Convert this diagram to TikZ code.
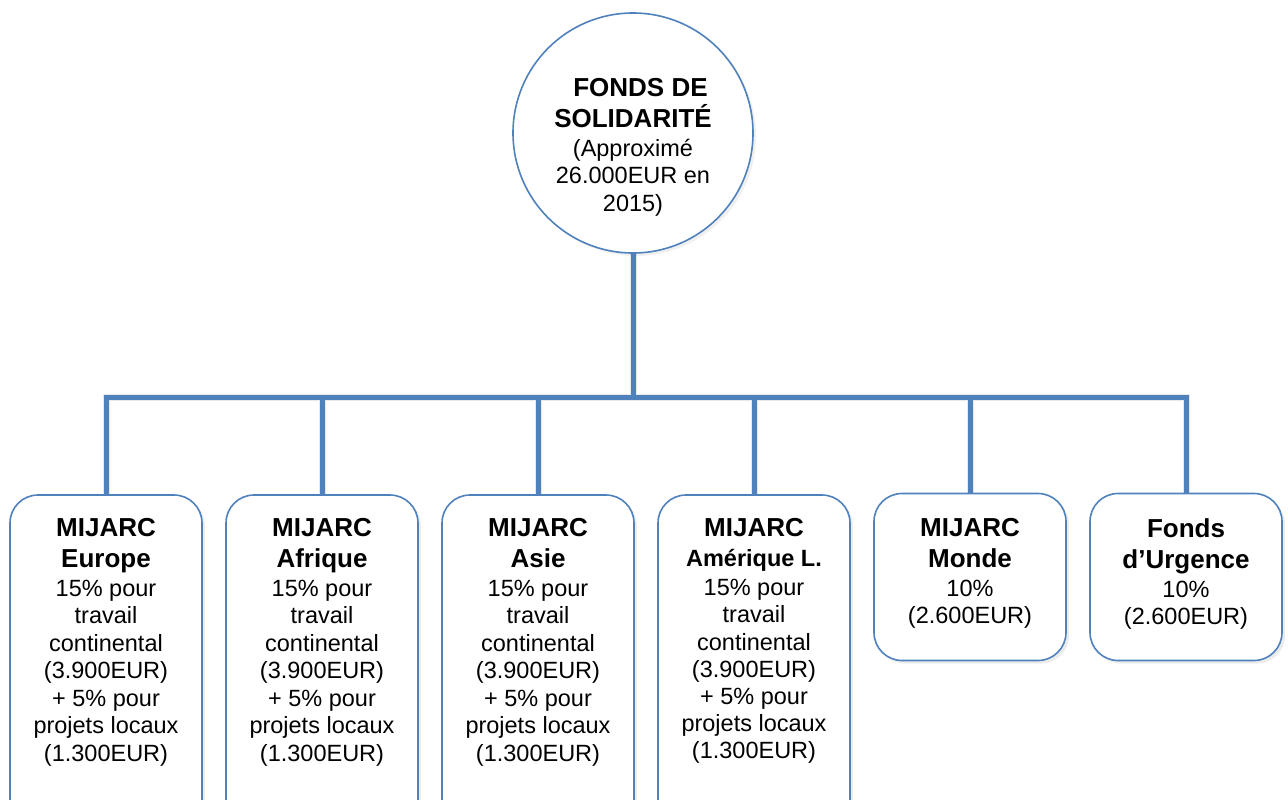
\documentclass[tikz,border=0pt]{standalone}
\usepackage{fontspec}
\setmainfont{Liberation Sans}
\usetikzlibrary{shadows,backgrounds}
\definecolor{obl}{HTML}{4F81BD}
\newcommand\boldl[1]{{\bfseries\fontsize{26}{27.5}\selectfont #1}}
\newcommand\boldm[1]{{\bfseries\fontsize{23.5}{27.5}\selectfont #1}}
\begin{document}
\begin{tikzpicture}[x=1pt,y=-1pt,
  boxst/.style={draw=obl, line width=1.6pt, rounded corners=28pt, fill=white,
    minimum width=192pt, minimum height=#1, inner sep=0pt,
    drop shadow={opacity=0.15, shadow xshift=3pt, shadow yshift=-3pt}},
  circst/.style={draw=obl, line width=1.6pt, circle, fill=white, minimum size=240pt, inner sep=0pt,
    drop shadow={opacity=0.12, shadow xshift=3pt, shadow yshift=-3pt}},
  txt/.style={align=center, inner sep=0pt, anchor=north, font=\fontsize{23.5}{27.5}\selectfont},
  conn/.style={draw=obl, line width=5pt},
  connsh/.style={draw=black!9, line width=7pt}]
\useasboundingbox (0,0) rectangle (1288,800);

% root circle
\node[circst] (root) at (633,133) {};
\node[txt] (roottxt) at (633,78) {\hspace*{15pt}\boldl{FONDS DE}\\[3.5pt]\boldl{SOLIDARITÉ}\\[1.5pt](Approximé\\26.000EUR en\\2015)};

% boxes
\node[boxst=335pt] (e1) at (106,662.5) {};
\node[boxst=335pt] (e2) at (322,662.5) {};
\node[boxst=335pt] (e3) at (538,662.5) {};
\node[boxst=335pt] (e4) at (754,662.5) {};
\node[boxst=167pt] (e5) at (970,577) {};
\node[boxst=167pt] (e6) at (1186,577) {};

\node[txt] (t1) at (106,518) {\boldl{MIJARC}\\[3.5pt]\boldl{Europe}\\[1.5pt]15\% pour\\travail\\continental\\(3.900EUR)\\+ 5\% pour\\projets locaux\\(1.300EUR)};
\node[txt] (t2) at (322,518) {\boldl{MIJARC}\\[3.5pt]\boldl{Afrique}\\[1.5pt]15\% pour\\travail\\continental\\(3.900EUR)\\+ 5\% pour\\projets locaux\\(1.300EUR)};
\node[txt] (t3) at (538,518) {\boldl{MIJARC}\\[3.5pt]\boldl{Asie}\\[1.5pt]15\% pour\\travail\\continental\\(3.900EUR)\\+ 5\% pour\\projets locaux\\(1.300EUR)};
\node[txt, font=\fontsize{23.5}{27.2}\selectfont] (t4) at (754,518.5) {\boldl{MIJARC}\\[2pt]\boldm{Amérique L.}\\[2.5pt]15\% pour\\travail\\continental\\(3.900EUR)\\+ 5\% pour\\projets locaux\\(1.300EUR)};
\node[txt] (t5) at (970,518) {\boldl{MIJARC}\\[3.5pt]\boldl{Monde}\\[1.5pt]10\%\\(2.600EUR)};
\node[txt] (t6) at (1186,518) {\boldl{Fonds}\\[3.5pt]\boldl{d’Urgence}\\[1.5pt]10\%\\(2.600EUR)};

\coordinate (bar) at (633,397.5);
\begin{scope}[on background layer]
  \begin{scope}[shift={(2,4)}]
    \foreach \b in {e1,e2,e3,e4,e5,e6}
      \draw[connsh] (root.south) -- (bar) -| (\b.north);
  \end{scope}
  \foreach \b in {e1,e2,e3,e4,e5,e6}
    \draw[conn] (root.south) -- (bar) -| (\b.north);
\end{scope}
\end{tikzpicture}
\end{document}
